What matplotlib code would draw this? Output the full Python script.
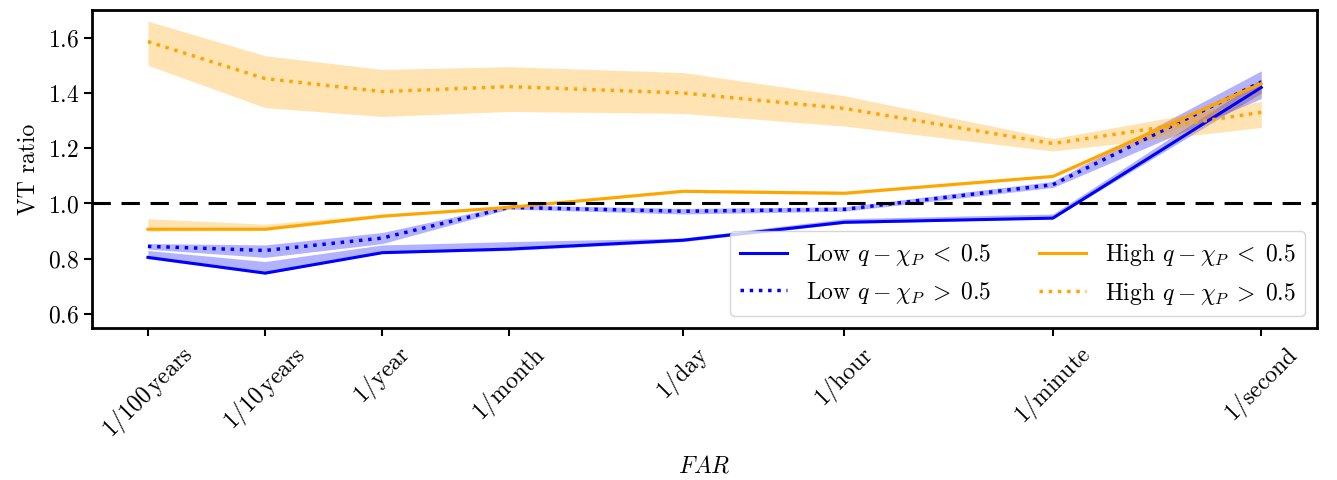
import numpy as np
import matplotlib.pyplot as plt

plt.rcParams["font.family"] = "serif"
plt.rcParams["font.serif"] = ["cmr10", "DejaVu Serif"]
plt.rcParams["mathtext.fontset"] = "cm"
plt.rcParams["axes.formatter.use_mathtext"] = True
plt.rcParams["font.size"] = 17

# FAR in Hz
far = np.array([1/(100*3.156e7), 1/(10*3.156e7), 1/3.156e7, 1/2.63e6,
                1/86400, 1/3600, 1/60, 1.0])
far_labels = [r"$\mathrm{1/100\,years}$", r"$\mathrm{1/10\,years}$", r"$\mathrm{1/year}$",
              r"$\mathrm{1/month}$", r"$\mathrm{1/day}$", r"$\mathrm{1/hour}$",
              r"$\mathrm{1/minute}$", r"$\mathrm{1/second}$"]

low_lt = np.array([0.805, 0.748, 0.822, 0.835, 0.867, 0.932, 0.947, 1.42])
low_lt_lo = np.array([0.800, 0.745, 0.820, 0.830, 0.862, 0.928, 0.945, 1.40])
low_lt_hi = np.array([0.830, 0.790, 0.850, 0.862, 0.875, 0.945, 0.962, 1.45])

low_gt = np.array([0.845, 0.830, 0.875, 0.986, 0.972, 0.979, 1.068, 1.44])
low_gt_lo = np.array([0.835, 0.805, 0.855, 0.980, 0.962, 0.972, 1.058, 1.38])
low_gt_hi = np.array([0.855, 0.850, 0.895, 0.995, 0.982, 0.988, 1.080, 1.48])

high_lt = np.array([0.907, 0.907, 0.954, 0.986, 1.044, 1.037, 1.098, 1.434])
high_lt_lo = np.array([0.900, 0.902, 0.950, 0.982, 1.040, 1.032, 1.094, 1.39])
high_lt_hi = np.array([0.945, 0.925, 0.962, 0.992, 1.052, 1.045, 1.104, 1.45])

high_gt = np.array([1.586, 1.452, 1.405, 1.423, 1.400, 1.344, 1.217, 1.330])
high_gt_lo = np.array([1.500, 1.347, 1.315, 1.333, 1.326, 1.280, 1.190, 1.275])
high_gt_hi = np.array([1.660, 1.535, 1.485, 1.495, 1.474, 1.390, 1.235, 1.370])

fig, ax = plt.subplots(figsize=(13.37, 4.8), dpi=100)

ax.fill_between(far, low_lt_lo, low_lt_hi, color="blue", alpha=0.3, lw=0)
ax.plot(far, low_lt, "-", color="blue", lw=2.2, label=r"Low $q\:-\:\chi_P\;<\;0.5$")
ax.fill_between(far, low_gt_lo, low_gt_hi, color="blue", alpha=0.3, lw=0)
ax.plot(far, low_gt, ":", color="blue", lw=2.5, label=r"Low $q\:-\:\chi_P\;>\;0.5$")
ax.fill_between(far, high_lt_lo, high_lt_hi, color="orange", alpha=0.3, lw=0)
ax.plot(far, high_lt, "-", color="orange", lw=2.2, label=r"High $q\:-\:\chi_P\;<\;0.5$")
ax.fill_between(far, high_gt_lo, high_gt_hi, color="orange", alpha=0.3, lw=0)
ax.plot(far, high_gt, ":", color="orange", lw=2.5, label=r"High $q\:-\:\chi_P\;>\;0.5$")

ax.axhline(1.0, color="black", ls="--", lw=2.2, dashes=(6, 3.5))

ax.set_xscale("log")
ax.set_xticks(far)
ax.set_xticklabels(far_labels, rotation=45, ha="center")
ax.minorticks_off()
ax.set_ylim(0.55, 1.7)
ax.set_yticks([0.6, 0.8, 1.0, 1.2, 1.4, 1.6])
ax.set_xlabel(r"$FAR$", labelpad=8)
ax.set_ylabel("VT ratio", labelpad=6)
for s in ax.spines.values():
    s.set_linewidth(2)
ax.tick_params(width=1.5, length=6)

ax.legend(loc="lower right", ncol=2, fontsize=17)
fig.subplots_adjust(left=0.069, right=0.985, top=0.979, bottom=0.317)
fig.savefig("out.png", dpi=100)
